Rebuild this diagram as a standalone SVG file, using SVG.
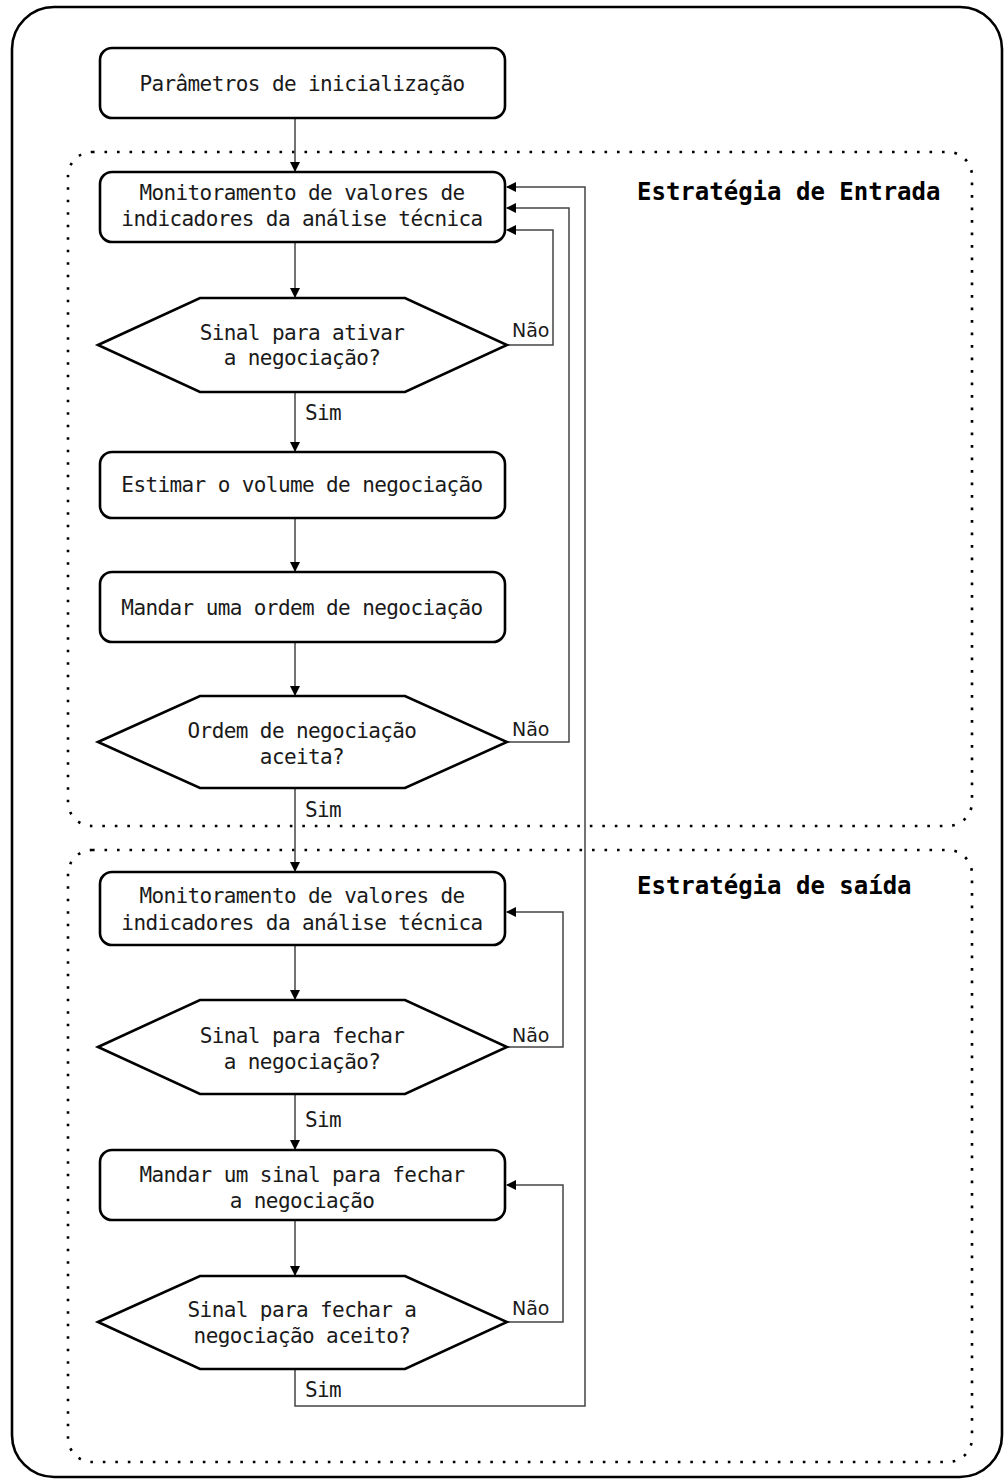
<svg xmlns="http://www.w3.org/2000/svg" width="1005" height="1479" viewBox="0 0 1005 1479">
<style>
.node{fill:#fff;stroke:#000;stroke-width:2.6}
.t{font-family:"DejaVu Sans Mono","Liberation Mono",monospace;font-size:21px;letter-spacing:-0.6px;fill:#1a1a1a;text-anchor:middle}
.title{font-family:"DejaVu Sans Mono","Liberation Mono",monospace;font-size:24px;font-weight:bold;fill:#000}
.lbl{font-family:"DejaVu Sans Mono","Liberation Mono",monospace;font-size:21px;letter-spacing:-0.6px;fill:#1a1a1a}
.nao{font-family:"DejaVu Sans","Liberation Sans",sans-serif;font-size:19px;fill:#1a1a1a}
.c{fill:none;stroke:#444;stroke-width:1.5}
.dot{fill:none;stroke:#000;stroke-width:2.6;stroke-dasharray:2.6 9.9}
</style>
<defs>
<marker id="ah" markerWidth="10" markerHeight="10" refX="9" refY="5" orient="auto" markerUnits="userSpaceOnUse">
<path d="M0,0 L10,5 L0,10 Z" fill="#000"/>
</marker>
</defs>
<rect x="12" y="7" width="990" height="1470" rx="42" fill="#fff" stroke="#000" stroke-width="2.6"/>
<g id="frames">
<rect class="dot" x="68" y="152" width="904" height="674" rx="24"/>
<rect class="dot" x="68" y="850" width="904" height="612" rx="24"/>
<text class="title" x="637" y="200">Estratégia de Entrada</text>
<text class="title" x="637" y="894">Estratégia de saída</text>
</g>
<g id="connectors">
<path class="c" d="M295,118 V171" marker-end="url(#ah)"/>
<path class="c" d="M295,242 V297" marker-end="url(#ah)"/>
<path class="c" d="M295,392 V451" marker-end="url(#ah)"/>
<path class="c" d="M295,518 V571" marker-end="url(#ah)"/>
<path class="c" d="M295,642 V695" marker-end="url(#ah)"/>
<path class="c" d="M295,788 V871" marker-end="url(#ah)"/>
<path class="c" d="M295,945 V999" marker-end="url(#ah)"/>
<path class="c" d="M295,1094 V1149" marker-end="url(#ah)"/>
<path class="c" d="M295,1220 V1275" marker-end="url(#ah)"/>
<path class="c" d="M507,345 H553 V230 H507" marker-end="url(#ah)"/>
<path class="c" d="M507,742 H569 V208 H507" marker-end="url(#ah)"/>
<path class="c" d="M295,1369 V1406 H585 V187 H507" marker-end="url(#ah)"/>
<path class="c" d="M507,1047 H563 V912 H507" marker-end="url(#ah)"/>
<path class="c" d="M507,1322 H563 V1185 H507" marker-end="url(#ah)"/>
<text class="nao" x="512" y="337">Não</text>
<text class="nao" x="512" y="736">Não</text>
<text class="nao" x="512" y="1042">Não</text>
<text class="nao" x="512" y="1315">Não</text>
<text class="lbl" x="305" y="420">Sim</text>
<text class="lbl" x="305" y="817">Sim</text>
<text class="lbl" x="305" y="1127">Sim</text>
<text class="lbl" x="305" y="1397">Sim</text>
</g>
<g id="n1"><rect class="node" x="100" y="48" width="405" height="70" rx="12"/><text class="t" x="302" y="91">Parâmetros de inicialização</text></g>
<g id="n2"><rect class="node" x="100" y="172" width="405" height="70" rx="12"/><text class="t" x="302" y="200">Monitoramento de valores de</text><text class="t" x="302" y="226">indicadores da análise técnica</text></g>
<g id="d1"><polygon class="node" points="98,345 200,298 405,298 507,345 405,392 200,392"/><text class="t" x="302" y="340">Sinal para ativar</text><text class="t" x="302" y="365">a negociação?</text></g>
<g id="n3"><rect class="node" x="100" y="452" width="405" height="66" rx="12"/><text class="t" x="302" y="492">Estimar o volume de negociação</text></g>
<g id="n4"><rect class="node" x="100" y="572" width="405" height="70" rx="12"/><text class="t" x="302" y="615">Mandar uma ordem de negociação</text></g>
<g id="d2"><polygon class="node" points="98,742 200,696 405,696 507,742 405,788 200,788"/><text class="t" x="302" y="738">Ordem de negociação</text><text class="t" x="302" y="764">aceita?</text></g>
<g id="n5"><rect class="node" x="100" y="872" width="405" height="73" rx="12"/><text class="t" x="302" y="903">Monitoramento de valores de</text><text class="t" x="302" y="930">indicadores da análise técnica</text></g>
<g id="d3"><polygon class="node" points="98,1047 200,1000 405,1000 507,1047 405,1094 200,1094"/><text class="t" x="302" y="1043">Sinal para fechar</text><text class="t" x="302" y="1069">a negociação?</text></g>
<g id="n6"><rect class="node" x="100" y="1150" width="405" height="70" rx="12"/><text class="t" x="302" y="1182">Mandar um sinal para fechar</text><text class="t" x="302" y="1208">a negociação</text></g>
<g id="d4"><polygon class="node" points="98,1322 200,1276 405,1276 507,1322 405,1369 200,1369"/><text class="t" x="302" y="1317">Sinal para fechar a</text><text class="t" x="302" y="1343">negociação aceito?</text></g>
</svg>
